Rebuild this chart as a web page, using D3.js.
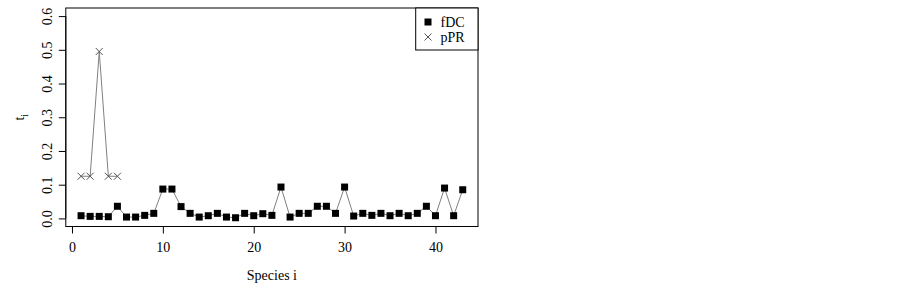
<!DOCTYPE html>
<html><head><meta charset="utf-8">
<script src="https://cdn.jsdelivr.net/npm/d3@7"></script>
<style>body{margin:0;background:#fff}svg{display:block}text{font-family:"Liberation Serif","Times New Roman",serif}</style>
</head><body><svg id="c" width="902" height="289"></svg>
<script>
const species = d3.range(1, 44);
const fDC = [0.008,0.006,0.006,0.005,0.036,0.004,0.004,0.009,0.015,0.087,
             0.087,0.035,0.015,0.004,0.008,0.015,0.004,0.002,0.015,0.008,
             0.014,0.009,0.093,0.004,0.015,0.015,0.036,0.036,0.015,0.093,
             0.007,0.015,0.009,0.015,0.008,0.015,0.008,0.015,0.036,0.008,
             0.090,0.008,0.085];
const pPRx = [1,2,3,4,5];
const pPR = [0.125,0.125,0.495,0.125,0.125];
const xTicks = [0,10,20,30,40];
const yTicks = [0,0.1,0.2,0.3,0.4,0.5,0.6];
const legendLabels = ["fDC","pPR"];

const svg = d3.select("#c");
const L = 65.8, R = 478, T = 8, B = 226.5;
const x = d3.scaleLinear().domain([1 - 42*0.04, 43 + 42*0.04]).range([L, R]);
const y = d3.scaleLinear().domain([0 - 0.6*0.04, 0.6 + 0.6*0.04]).range([B, T]);

svg.append("rect").attr("x", L).attr("y", T).attr("width", R - L).attr("height", B - T)
  .attr("fill", "none").attr("stroke", "#000").attr("stroke-width", 1);

const serif = '"Liberation Serif","Times New Roman",serif';
const xa = svg.append("g").attr("transform", `translate(0,${B})`)
  .call(d3.axisBottom(x).tickValues(xTicks).tickSize(7).tickPadding(9).tickFormat(d3.format("d")));
xa.attr("font-family", serif);
xa.select(".domain").attr("d", `M${x(0)},0H${x(40)}`);
xa.selectAll("text").attr("font-size", 14).attr("fill", "#000").attr("font-family", serif);

const ya = svg.append("g").attr("transform", `translate(${L},0)`)
  .call(d3.axisLeft(y).tickValues(yTicks).tickSize(7).tickPadding(0).tickFormat(d3.format(".1f")));
ya.attr("font-family", serif);
ya.select(".domain").attr("d", `M0,${y(0)}V${y(0.6)}`);
ya.selectAll(".tick text").attr("font-size", 14).attr("fill", "#000").attr("font-family", serif)
  .attr("text-anchor", "middle").attr("dy", null)
  .attr("transform", "translate(-17,0) rotate(-90)").attr("dominant-baseline", "middle").attr("x", 0);

svg.append("text").attr("x", (L + R) / 2).attr("y", 280).attr("text-anchor", "middle")
  .attr("font-size", 14).text("Species i");
const yl = svg.append("text").attr("transform", `translate(24,${(T + B) / 2}) rotate(-90)`)
  .attr("text-anchor", "middle").attr("font-size", 14);
yl.append("tspan").text("t");
yl.append("tspan").attr("font-size", 10).attr("dy", 4).text("i");

const line = d3.line().x(d => x(d[0])).y(d => y(d[1]));
svg.append("path").datum(species.map((s, i) => [s, fDC[i]])).attr("d", line)
  .attr("fill", "none").attr("stroke", "#808080").attr("stroke-width", 1);
svg.append("path").datum(pPRx.map((s, i) => [s, pPR[i]])).attr("d", line)
  .attr("fill", "none").attr("stroke", "#808080").attr("stroke-width", 1);

const sq = 7;
svg.append("g").selectAll("rect").data(species.map((s, i) => [s, fDC[i]])).join("rect")
  .attr("x", d => x(d[0]) - sq / 2).attr("y", d => y(d[1]) - sq / 2)
  .attr("width", sq).attr("height", sq).attr("fill", "#000");
const cr = 3.5;
const crossPath = (cx, cy) => `M${cx-cr},${cy-cr}L${cx+cr},${cy+cr}M${cx-cr},${cy+cr}L${cx+cr},${cy-cr}`;
svg.append("g").selectAll("path").data(pPRx.map((s, i) => [s, pPR[i]])).join("path")
  .attr("d", d => crossPath(x(d[0]), y(d[1])))
  .attr("stroke", "#555").attr("stroke-width", 1).attr("fill", "none");

const lx = 415.7, ly = T, lw = R - lx, lh = 42;
svg.append("rect").attr("x", lx).attr("y", ly).attr("width", lw).attr("height", lh)
  .attr("fill", "#fff").attr("stroke", "#000").attr("stroke-width", 1);
const rows = [22, 37];
svg.append("rect").attr("x", 428 - 3.5).attr("y", rows[0] - 3.5).attr("width", 7).attr("height", 7).attr("fill", "#000");
svg.append("path").attr("d", crossPath(428, rows[1])).attr("stroke", "#555").attr("fill", "none");
legendLabels.forEach((t, i) => {
  svg.append("text").attr("x", 440.5).attr("y", rows[i]).attr("dy", "0.35em")
    .attr("font-size", 14).text(t);
});
</script></body></html>
